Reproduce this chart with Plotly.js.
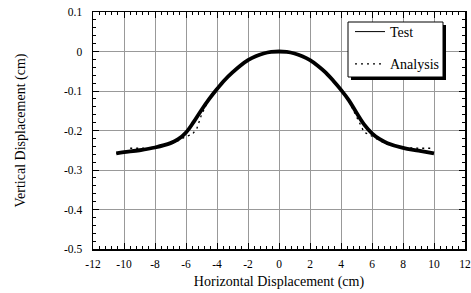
<!DOCTYPE html>
<html><head><meta charset="utf-8">
<script src="https://cdn.plot.ly/plotly-3.0.1.min.js"></script>
<style>html,body{margin:0;padding:0;background:#fff}</style>
</head><body><div id="chart" style="width:471px;height:293px"></div>
<script>
const testX = [-10.5,-10,-9,-8,-7,-6.5,-6,-5.5,-5,-4.5,-4,-3.5,-3,-2.5,-2,-1.5,-1,-0.5,0,0.5,1,1.5,2,2.5,3,3.5,4,4.5,5,5.5,6,6.5,7,8,9,10];
const testY = [-0.258,-0.255,-0.25,-0.243,-0.232,-0.222,-0.205,-0.178,-0.148,-0.12,-0.095,-0.072,-0.053,-0.036,-0.022,-0.012,-0.005,-0.001,0,-0.001,-0.005,-0.012,-0.022,-0.036,-0.053,-0.074,-0.097,-0.123,-0.155,-0.185,-0.207,-0.222,-0.232,-0.244,-0.251,-0.258];
const anaX = [-9.6,-9,-8,-7,-6.5,-6,-5.6,-5.3,-5,-4.5,-4,-3.5,-3,-2.5,-2,-1.5,-1,-0.5,0,0.5,1,1.5,2,2.5,3,3.5,4,4.5,5,5.3,5.5,5.8,6,6.5,7,8,9,9.8];
const anaY = [-0.245,-0.245,-0.243,-0.235,-0.226,-0.215,-0.21,-0.195,-0.16,-0.12,-0.093,-0.07,-0.051,-0.035,-0.021,-0.011,-0.004,-0.001,0,-0.001,-0.004,-0.011,-0.021,-0.035,-0.052,-0.073,-0.097,-0.125,-0.165,-0.19,-0.205,-0.21,-0.215,-0.226,-0.235,-0.243,-0.245,-0.245];
const xTicks = [-12,-10,-8,-6,-4,-2,0,2,4,6,8,10,12];
const xTickText = ["-12","-10","-8","-6","-4","-2","0","2","4","6","8","10","12"];
const yTicks = [0.1,0,-0.1,-0.2,-0.3,-0.4,-0.5];
const yTickText = ["0.1","0","-0.1","-0.2","-0.3","-0.4","-0.5"];

const fam = "'Liberation Serif', 'Times New Roman', serif";
const font = {family: fam, color: "#000", size: 11};
const traces = [
  {x: testX, y: testY, mode: "lines", name: "Test", showlegend: false, line: {color: "#000", width: 3.8, shape: "spline"}, legendgroup: "a"},
  {x: testX, y: testY, mode: "lines", name: "Test", line: {color: "#000", width: 1, shape: "spline"}, legendgroup: "a"},
  {x: anaX, y: anaY, mode: "lines", name: "Analysis", line: {color: "#000", width: 1.3, dash: "2px,4px"}, legendgroup: "b"}
];
function px2x(p){return (p-93)/372;}
function px2y(p){return (249-p)/237;}
const layout = {
  width: 471, height: 293,
  margin: {l: 93, r: 6, t: 12, b: 44},
  paper_bgcolor: "#fff", plot_bgcolor: "#fff",
  font: font,
  showlegend: true,
  legend: {x: px2x(350), y: px2y(16), xanchor: "left", yanchor: "top", bgcolor: "rgba(0,0,0,0)", borderwidth: 0,
           font: {family: fam, size: 14, color: "#000"}, tracegroupgap: 11, traceorder: "grouped", itemwidth: 30},
  xaxis: {range: [-12, 12], tickmode: "array", tickvals: xTicks, ticktext: xTickText,
          showgrid: true, gridcolor: "#999", gridwidth: 1, zeroline: false,
          showline: true, linecolor: "#000", linewidth: 1.5, mirror: "allticks",
          ticks: "inside", ticklen: 6, tickcolor: "#000", tickwidth: 1, ticklabelstandoff: 4,
          minor: {dtick: 0.4, tick0: 0, ticks: "inside", ticklen: 3, tickcolor: "#000", showgrid: false},
          tickfont: {family: fam, size: 11.5, color: "#000"},
          title: {text: "Horizontal Displacement (cm)", font: {family: fam, size: 14, color: "#000"}, standoff: 7}},
  yaxis: {range: [-0.5, 0.1], tickmode: "array", tickvals: yTicks, ticktext: yTickText,
          showgrid: true, gridcolor: "#999", gridwidth: 1, zeroline: false,
          showline: true, linecolor: "#000", linewidth: 1.5, mirror: "allticks",
          ticks: "inside", ticklen: 6, tickcolor: "#000", tickwidth: 1, ticklabelstandoff: 7,
          minor: {dtick: 0.02, tick0: 0, ticks: "inside", ticklen: 3, tickcolor: "#000", showgrid: false},
          tickfont: {family: fam, size: 11.5, color: "#000"},
          title: {text: "Vertical Displacement (cm)", font: {family: fam, size: 14, color: "#000"}, standoff: 35}},
  shapes: [
    {type: "rect", xref: "paper", yref: "paper", x0: px2x(351), x1: px2x(446), y0: px2y(80), y1: px2y(25), fillcolor: "#000", line: {width: 0}, layer: "above"},
    {type: "rect", xref: "paper", yref: "paper", x0: px2x(348), x1: px2x(443), y0: px2y(77), y1: px2y(22), fillcolor: "#fff", line: {color: "#000", width: 1}, layer: "above"}
  ]
};
Plotly.newPlot("chart", traces, layout, {displayModeBar: false, staticPlot: true});
</script></body></html>
